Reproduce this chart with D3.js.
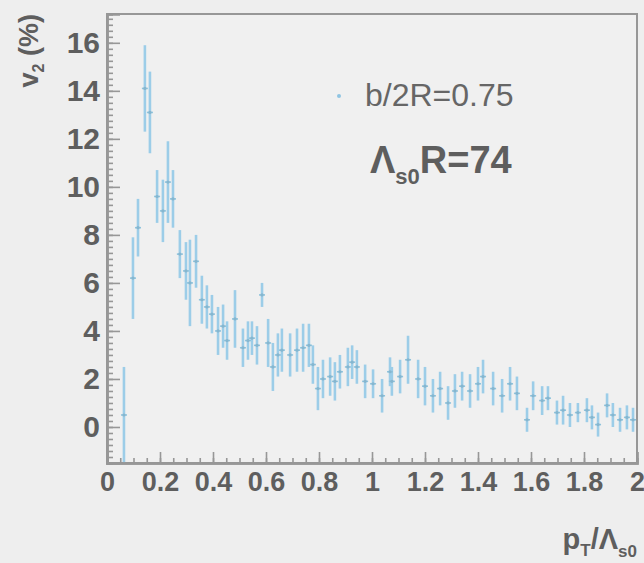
<!DOCTYPE html>
<html>
<head>
<meta charset="utf-8">
<script src="https://cdn.jsdelivr.net/npm/d3@7"></script>
<style>
html,body{margin:0;padding:0;background:#eeeeee;}
svg{display:block;}
text{font-family:"Liberation Sans",Arial,Helvetica,sans-serif;}
</style>
</head>
<body>
<svg id="chart" width="644" height="563"></svg>
<script>
// x positions (pT/Λs0), v2 values (%), errors (%)
const ptValues = [0.064,0.098,0.117,0.143,0.162,0.189,0.211,0.230,0.249,0.275,0.298,0.313,0.336,0.358,0.377,0.396,0.419,0.438,0.453,0.483,
  0.513,0.532,0.547,0.566,0.585,0.608,0.626,0.645,0.660,0.691,0.717,0.740,0.762,0.777,0.796,0.815,0.842,0.860,0.879,0.909,
  0.925,0.943,0.974,1.004,1.038,1.068,1.075,1.106,1.136,1.174,1.200,1.230,1.257,1.287,1.313,1.340,1.370,1.400,1.419,1.457,
  1.491,1.521,1.547,1.585,1.608,1.642,1.664,1.698,1.721,1.747,1.777,1.811,1.830,1.853,1.887,1.909,1.936,1.962,1.985];
const v2Values = [0.5,6.2,8.3,14.1,13.1,9.6,9.0,10.2,9.5,7.2,6.5,6.0,6.9,5.3,5.0,4.7,4.0,4.2,3.6,4.5,
  3.3,3.6,3.7,3.4,5.5,3.5,2.5,3.0,3.2,3.0,3.2,3.3,3.4,2.6,1.6,2.0,2.1,1.9,2.3,2.5,
  2.7,2.5,1.9,1.8,1.3,2.3,1.9,2.1,2.8,2.0,1.7,1.3,1.6,1.0,1.5,1.7,1.5,1.8,2.1,1.6,
  1.3,1.8,1.4,0.3,1.3,1.1,1.2,0.6,0.7,0.5,0.6,0.7,0.4,0.1,0.9,0.5,0.3,0.4,0.3];
const v2Errors = [2.0,1.7,1.2,1.8,1.7,1.1,1.3,1.7,1.2,1.0,1.2,1.8,1.1,1.0,0.9,0.8,1.0,0.9,0.8,1.2,
  0.8,0.8,0.7,0.8,0.5,1.0,1.0,0.9,0.9,0.9,0.9,1.0,0.9,0.8,0.9,0.8,0.8,0.8,0.7,0.8,
  0.7,0.7,0.7,0.6,0.7,0.6,0.6,0.7,1.0,0.8,0.8,0.7,0.7,0.7,0.7,0.6,0.7,0.7,0.7,0.7,
  0.7,0.7,0.7,0.5,0.6,0.6,0.5,0.5,0.6,0.5,0.4,0.5,0.5,0.5,0.5,0.5,0.5,0.5,0.5];
const xTicks = [0,0.2,0.4,0.6,0.8,1,1.2,1.4,1.6,1.8,2];
const yTicks = [0,2,4,6,8,10,12,14,16];
const legendLine1 = "b/2R=0.75";

const svg = d3.select("#chart");
const x = d3.scaleLinear().domain([0,2]).range([107,637]);
const y = d3.scaleLinear().domain([-1.5,17.2]).range([463,14]);

const axisColor = "#979797";
const labelColor = "#5e5e5e";

// frame
svg.append("rect").attr("x",x(0)).attr("y",y(17.2)).attr("width",x(2)-x(0)).attr("height",y(-1.5)-y(17.2))
  .attr("fill","#f0f0f0").attr("stroke",axisColor).attr("stroke-width",2);

// data
const pts = ptValues.map((p,i)=>({p, v:v2Values[i], e:v2Errors[i]}));
const g = svg.append("g");
g.selectAll("line.err").data(pts).enter().append("line")
  .attr("x1",d=>x(d.p)).attr("x2",d=>x(d.p))
  .attr("y1",d=>y(d.v-d.e)).attr("y2",d=>y(d.v+d.e))
  .attr("stroke","#9ccde8").attr("stroke-width",2.6);
g.selectAll("line.h").data(pts).enter().append("line")
  .attr("x1",d=>x(d.p)-3).attr("x2",d=>x(d.p)+3)
  .attr("y1",d=>y(d.v)).attr("y2",d=>y(d.v))
  .attr("stroke","#8ec3dc").attr("stroke-width",1.6);
g.selectAll("circle").data(pts).enter().append("circle")
  .attr("cx",d=>x(d.p)).attr("cy",d=>y(d.v)).attr("r",1.6).attr("fill","#86b6cf");

// x axis
const xMinor = d3.range(0,2.0001,0.05);
const xAxisMinor = d3.axisBottom(x).tickValues(xMinor).tickSize(-5).tickFormat("");
const xAxis = d3.axisBottom(x).tickValues(xTicks).tickSize(-11).tickPadding(9).tickFormat(d=>d3.format("")(+d.toFixed(1)));
const gxm = svg.append("g").attr("transform",`translate(0,${y(-1.5)})`).call(xAxisMinor);
const gx = svg.append("g").attr("transform",`translate(0,${y(-1.5)})`).call(xAxis);
[gxm,gx].forEach(a=>{a.select(".domain").attr("stroke",axisColor).attr("stroke-width",2.5);
  a.selectAll(".tick line").attr("stroke",axisColor).attr("stroke-width",1.6);});
gx.selectAll(".tick text").attr("fill",labelColor).attr("font-size",27).attr("font-weight","bold")
  .attr("font-family","Liberation Sans, Arial, sans-serif");

// y axis
const yMinor = d3.range(-1.5,17.01,0.25);
const yAxisMinor = d3.axisLeft(y).tickValues(yMinor).tickSize(-6).tickFormat("");
const yAxis = d3.axisLeft(y).tickValues(yTicks).tickSize(-13).tickPadding(7).tickFormat(d3.format("d"));
const gym = svg.append("g").attr("transform",`translate(${x(0)},0)`).call(yAxisMinor);
const gy = svg.append("g").attr("transform",`translate(${x(0)},0)`).call(yAxis);
[gym,gy].forEach(a=>{a.select(".domain").attr("stroke",axisColor).attr("stroke-width",2.5);
  a.selectAll(".tick line").attr("stroke",axisColor).attr("stroke-width",1.6);});
gy.selectAll(".tick text").attr("fill",labelColor).attr("font-size",30).attr("font-weight","bold")
  .attr("font-family","Liberation Sans, Arial, sans-serif");

// axis titles
const yt = svg.append("text").attr("transform","translate(38,14) rotate(-90)")
  .attr("text-anchor","end").attr("fill",labelColor).attr("font-size",27).attr("font-weight","bold");
yt.append("tspan").text("v");
yt.append("tspan").attr("font-size",16).attr("dy",6).text("2");
yt.append("tspan").attr("dy",-6).text(" (%)");

const xt = svg.append("text").attr("x",637).attr("y",549).attr("text-anchor","end")
  .attr("fill",labelColor).attr("font-size",29).attr("font-weight","bold");
xt.append("tspan").text("p");
xt.append("tspan").attr("font-size",17).attr("dy",7).text("T");
xt.append("tspan").attr("dy",-7).text("/Λ");
xt.append("tspan").attr("font-size",17).attr("dy",8).text("s0");

// legend
svg.append("circle").attr("cx",339).attr("cy",96).attr("r",2).attr("fill","#8fc4e2");
svg.append("text").attr("x",365).attr("y",106).attr("fill","#666666").attr("font-size",32).text(legendLine1);
const l2 = svg.append("text").attr("x",370).attr("y",173).attr("fill",labelColor).attr("font-size",38).attr("font-weight","bold");
l2.append("tspan").text("Λ");
l2.append("tspan").attr("font-size",22).attr("dy",11).text("s0");
l2.append("tspan").attr("dy",-11).text("R=74");
</script>
</body>
</html>
